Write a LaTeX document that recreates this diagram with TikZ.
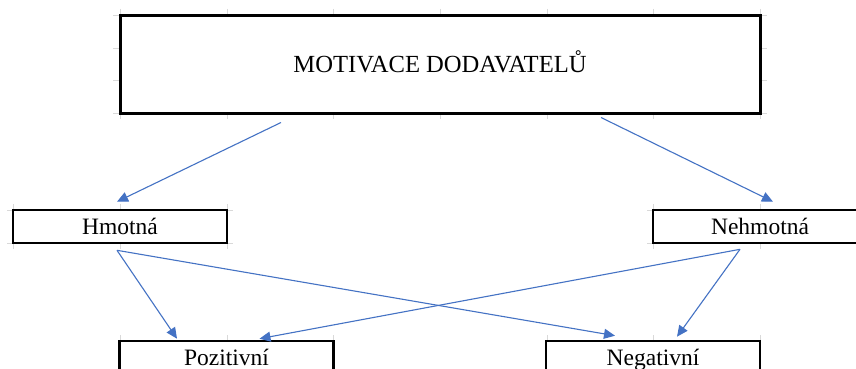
\documentclass[tikz,border=0pt]{standalone}
\usepackage{fontspec}
\setmainfont{Liberation Serif}
\usetikzlibrary{arrows.meta}
\definecolor{arrowblue}{HTML}{4472C4}
\definecolor{gridgray}{HTML}{D9D9D9}
\begin{document}
\begin{tikzpicture}[x=1pt,y=-1pt,
  box/.style={draw=black,line width=2.6pt,fill=white,inner sep=0pt,
    font=\fontsize{23.5}{28}\selectfont,text height=15.5pt,text depth=0pt},
  bigbox/.style={box,line width=3pt,minimum width=640pt,minimum height=97pt,
    font=\fontsize{24.6}{29}\selectfont,text height=16pt},
  smallbox/.style={box,minimum width=214pt,minimum height=33pt},
  conn/.style={draw=arrowblue,line width=1.1pt,-{Triangle[length=11pt,width=10pt]}},
  gtick/.style={draw=gridgray,line width=0.8pt}]
\useasboundingbox (0,0) rectangle (856,369);
\clip (0,0) rectangle (856,369);
\fill[white] (0,0) rectangle (856,369);
% faint spreadsheet grid ticks
\foreach \x in {120,227,333,440,547,653,760}{
  \draw[gtick] (\x,9) -- (\x,15);
  \draw[gtick] (\x,113) -- (\x,119);}
\foreach \y in {15,48,80,113}{
  \draw[gtick] (113,\y) -- (120,\y);
  \draw[gtick] (760,\y) -- (767,\y);}
\foreach \x in {13,120,227,653,760}{
  \draw[gtick] (\x,204) -- (\x,210);
  \draw[gtick] (\x,243) -- (\x,249);}
\foreach \y in {210,243}{
  \draw[gtick] (7,\y) -- (13,\y);
  \draw[gtick] (227,\y) -- (233,\y);
  \draw[gtick] (647,\y) -- (653,\y);}
\foreach \x in {120,227,333,547,653,760}{
  \draw[gtick] (\x,335) -- (\x,341);}
% boxes
\node[bigbox] (top) at (440,64.5) {MOTIVACE DODAVATELŮ};
\node[smallbox] (hm) at (120,226.5) {Hmotná};
\node[smallbox] (neh) at (760,226.5) {Nehmotná};
\node[smallbox] (poz) at (226.5,357.5) {Pozitivní};
\node[smallbox] (neg) at (653,357.5) {Negativní};
% connectors
\draw[conn] ([shift={(-159,8)}]top.south) -- ([shift={(-3,-7)}]hm.north);
\draw[conn] ([shift={(161,3)}]top.south) -- ([shift={(13,-7)}]neh.north);
\draw[conn] ([shift={(-3,6)}]hm.south) -- ([shift={(-49.5,-1)}]poz.north);
\draw[conn] ([shift={(-3,6)}]hm.south) -- ([shift={(-38,-4)}]neg.north);
\draw[conn] ([shift={(-20,5)}]neh.south) -- ([shift={(33,-1)}]poz.north);
\draw[conn] ([shift={(-20,5)}]neh.south) -- ([shift={(24,-3)}]neg.north);
\end{tikzpicture}
\end{document}
